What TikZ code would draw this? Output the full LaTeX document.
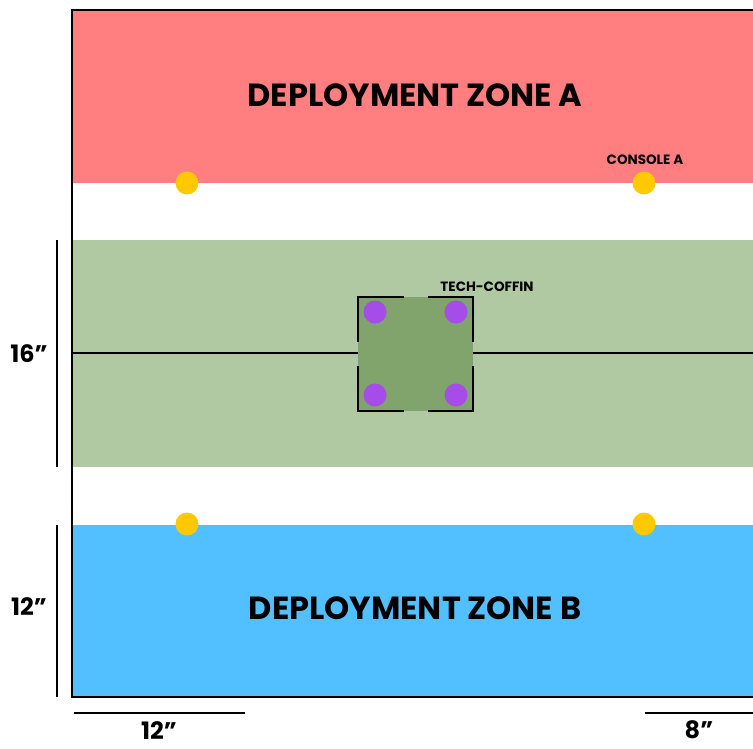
\documentclass[tikz,border=0pt]{standalone}
\usepackage{fontspec}
\setsansfont{Poppins}
\definecolor{ZoneRed}{HTML}{FF7F80}
\definecolor{ZoneBlue}{HTML}{52C0FF}
\definecolor{MidGreen}{HTML}{B0C9A2}
\definecolor{CoffinGreen}{HTML}{81A36C}
\definecolor{ObjYellow}{HTML}{FFC800}
\definecolor{ObjPurple}{HTML}{A64CE8}
\usetikzlibrary{positioning}

\begin{document}
\begin{tikzpicture}[
  x=1pt, y=-1pt,
  zonetitle/.style={
    font=\sffamily\bfseries\fontsize{32}{33}\selectfont,
    inner sep=0pt, anchor=center
  },
  smalllabel/.style={
    font=\sffamily\bfseries\fontsize{13.5}{14}\selectfont,
    inner sep=0pt, anchor=center
  },
  dimlabel/.style={
    font=\sffamily\bfseries\fontsize{24}{25}\selectfont,
    inner sep=0pt, anchor=center
  },
  edge/.style={line width=2pt, black},
  dimline/.style={line width=2pt, black},
  bracket/.style={line width=2pt, black},
  objective/.style={fill=ObjYellow},
  marker/.style={fill=ObjPurple}
]
  \useasboundingbox (0,0) rectangle (753,749);

  % Zones
  \fill[ZoneRed] (72,10) rectangle (753,183);
  \fill[MidGreen] (72,240) rectangle (753,467);
  \fill[ZoneBlue] (72,525) rectangle (753,697);

  % Board edges
  \draw[edge] (753,10) -- (72,10) -- (72,697) -- (753,697);

  % Centre line and tech-coffin
  \coordinate (ml) at (72,353);
  \coordinate (mr) at (753,353);
  \fill[CoffinGreen] (358,297) rectangle (473,411);
  \coordinate (cl) at (358,353);
  \coordinate (cr) at (473,353);
  \draw[line width=1.5pt] (ml) -- (cl);
  \draw[line width=1.5pt] (cr) -- (mr);
  \draw[bracket] (404,297) -- (358,297) -- (358,342);
  \draw[bracket] (428,297) -- (473,297) -- (473,342);
  \draw[bracket] (358,366) -- (358,411) -- (404,411);
  \draw[bracket] (473,366) -- (473,411) -- (428,411);
  \fill[marker] (375,312) circle[radius=11.5pt];
  \fill[marker] (456,312) circle[radius=11.5pt];
  \fill[marker] (375,395) circle[radius=11.5pt];
  \fill[marker] (456,395) circle[radius=11.5pt];

  % Objectives
  \fill[objective] (187,183) circle[radius=11.5pt];
  \fill[objective] (644,183) circle[radius=11.5pt];
  \fill[objective] (187,524) circle[radius=11.5pt];
  \fill[objective] (644,524) circle[radius=11.5pt];

  % Labels
  \node[zonetitle] (za) at (415,95) {DEPLOYMENT ZONE A};
  \node[zonetitle] (zb) at (415,608) {DEPLOYMENT ZONE B};
  \node[smalllabel] (console) at (645,160) {CONSOLE A};
  \node[smalllabel] (coffin) at (487,287) {TECH-COFFIN};

  % Dimensions
  \coordinate (d16t) at (57,240);
  \coordinate (d16b) at (57,467);
  \coordinate (d12t) at (57,525);
  \coordinate (d12b) at (57,697);
  \coordinate (dxl) at (74,713);
  \coordinate (dxr) at (245,713);
  \coordinate (dyl) at (645,713);
  \coordinate (dyr) at (753,713);
  \draw[dimline] (d16t) -- (d16b);
  \draw[dimline] (d12t) -- (d12b);
  \draw[dimline] (dxl) -- (dxr);
  \draw[dimline] (dyl) -- (dyr);
  \node[dimlabel] (l16) at (29,354) {16”};
  \node[dimlabel] (l12) at (29,607) {12”};
  \node[dimlabel] (b12) at (159,731) {12”};
  \node[dimlabel] (b8) at (699,730) {8”};
\end{tikzpicture}
\end{document}
